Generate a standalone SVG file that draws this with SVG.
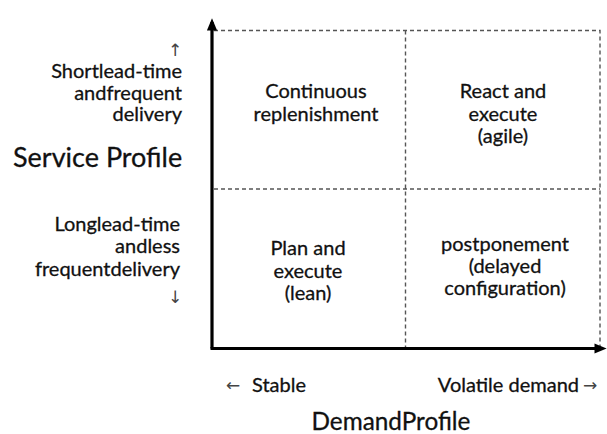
<svg xmlns="http://www.w3.org/2000/svg" width="607" height="434" viewBox="0 0 607 434">
  <style>
    text { font-family: Lato, "Open Sans", "Liberation Sans", sans-serif; fill: #111; stroke: #111; stroke-width: 0.3; }
    .cell { font-size: 20px; text-anchor: middle; }
    .side { font-size: 20px; text-anchor: end; }
    .left { font-size: 20px; text-anchor: start; }
    .title { font-size: 27px; }
    .tick { font-family: "DejaVu Sans", sans-serif; font-size: 17px; fill: #444; stroke: none; }
    .grid { fill: none; stroke: #555; stroke-width: 1.4; stroke-dasharray: 4 3; }
    .axis { fill: none; stroke: #000; stroke-width: 3.2; }
  </style>
  <defs>
    <marker id="arrow" viewBox="0 0 10 10" refX="7" refY="5" markerWidth="3.8" markerHeight="3.2" preserveAspectRatio="none" orient="auto-start-reverse" markerUnits="strokeWidth">
      <path d="M0,0 L10,5 L0,10 z" fill="#000"/>
    </marker>
  </defs>

  <g id="connectors">
    <!-- quadrant grid -->
    <path class="grid" d="M214,30.5 H600 V347 M214,189 H600 M405.5,30.5 V347"/>
    <!-- axes -->
    <path class="axis" d="M212,348.5 V22" marker-end="url(#arrow)"/>
    <path class="axis" d="M210.5,348.5 H603" marker-end="url(#arrow)"/>
  </g>

  <g id="q-continuous">
    <text class="cell" x="316" y="98">Continuous</text>
    <text class="cell" x="316" y="121">replenishment</text>
  </g>
  <g id="q-agile">
    <text class="cell" x="503" y="98">React and</text>
    <text class="cell" x="503" y="121">execute</text>
    <text class="cell" x="503" y="143">(agile)</text>
  </g>
  <g id="q-lean">
    <text class="cell" x="308" y="255">Plan and</text>
    <text class="cell" x="308" y="278">execute</text>
    <text class="cell" x="308" y="300">(lean)</text>
  </g>
  <g id="q-postponement">
    <text class="cell" x="505" y="251">postponement</text>
    <text class="cell" x="505" y="273">(delayed</text>
    <text class="cell" x="505" y="295">configuration)</text>
  </g>

  <g id="service-profile">
    <text class="tick" x="175" y="56" text-anchor="middle">↑</text>
    <text class="side" x="182" y="78">Shortlead-time</text>
    <text class="side" x="182" y="100">andfrequent</text>
    <text class="side" x="182" y="121">delivery</text>
    <text class="title" x="13" y="167">Service Profile</text>
    <text class="side" x="180" y="231">Longlead-time</text>
    <text class="side" x="180" y="253">andless</text>
    <text class="side" x="180" y="276">frequentdelivery</text>
    <text class="tick" x="175" y="303" text-anchor="middle">↓</text>
  </g>

  <g id="demand-profile">
    <text class="tick" x="226" y="391">←</text>
    <text class="left" x="252" y="392">Stable</text>
    <text class="side" x="579" y="392">Volatile demand</text>
    <text class="tick" x="583" y="391">→</text>
    <text class="title" x="391" y="430" text-anchor="middle" style="font-size:24.3px">DemandProfile</text>
  </g>
</svg>
